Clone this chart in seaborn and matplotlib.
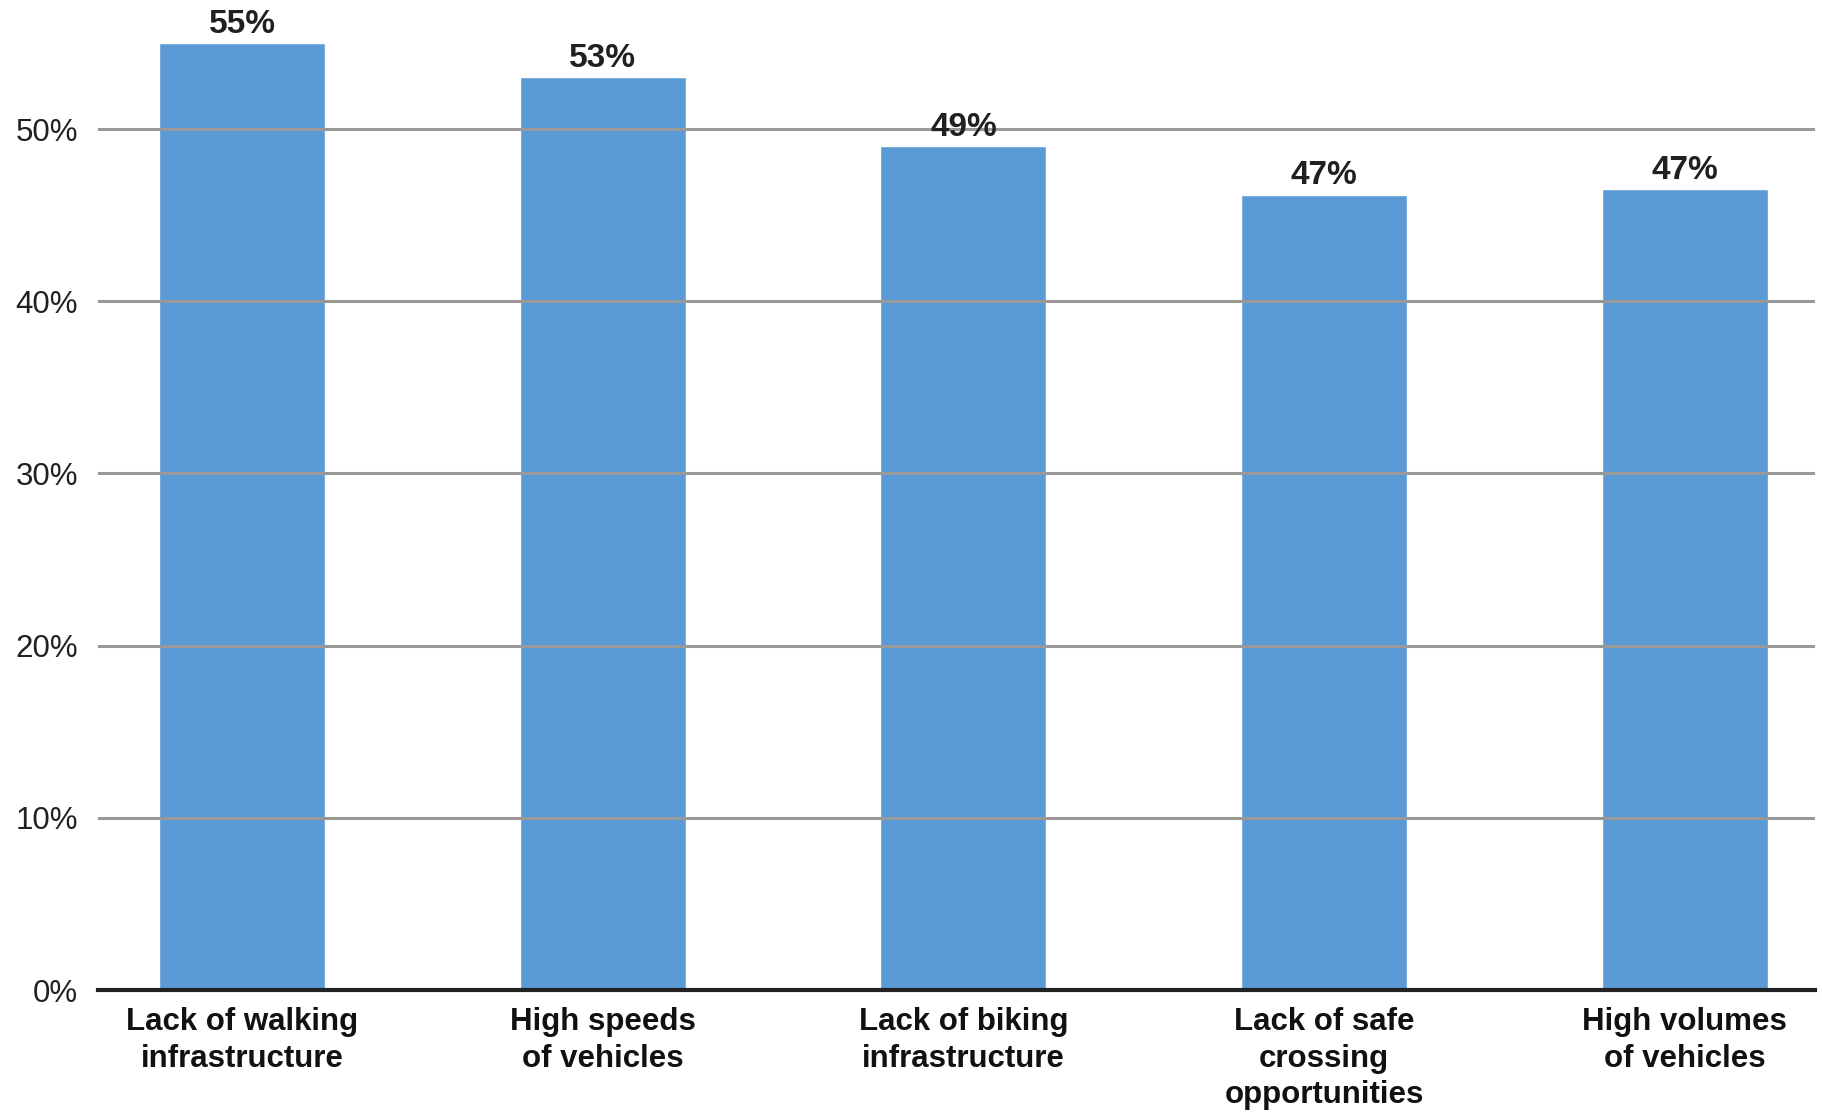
import pandas as pd
import matplotlib.pyplot as plt
import seaborn as sns

categories = [
    "Lack of walking\ninfrastructure",
    "High speeds\nof vehicles",
    "Lack of biking\ninfrastructure",
    "Lack of safe\ncrossing\nopportunities",
    "High volumes\nof vehicles",
]
values = [55.0, 53.0, 49.0, 46.2, 46.5]
value_labels = ["55%", "53%", "49%", "47%", "47%"]
y_ticks = [0, 10, 20, 30, 40, 50]
y_tick_labels = ["0%", "10%", "20%", "30%", "40%", "50%"]

df = pd.DataFrame({"issue": categories, "share": values})

sns.set_style("white")
plt.rcParams["font.family"] = ["Liberation Sans", "DejaVu Sans"]

fig = plt.figure(figsize=(18.22, 11.14), dpi=100)
ax = fig.add_axes([0.0536, 0.1113, 0.9424, 0.8887])

sns.barplot(data=df, x="issue", y="share", color="#5B9BD5", saturation=1,
            width=0.46, ax=ax, zorder=2)

# value labels above bars
for i, (v, lab) in enumerate(zip(values, value_labels)):
    ax.text(i, v + 0.2, lab, ha="center", va="bottom", fontsize=24,
            fontweight="bold", color="#231F20", clip_on=False)

ax.set_ylim(0, 57.5)
ax.set_xlim(-0.4, 4.36)
ax.set_yticks(y_ticks)
ax.set_yticklabels(y_tick_labels, fontsize=22.5, color="#231F20")
ax.tick_params(axis="y", length=0, pad=14)
ax.tick_params(axis="x", length=0, pad=12)
for t in ax.get_xticklabels():
    t.set_fontsize(22.5)
    t.set_fontweight("bold")
    t.set_color("#111111")
    t.set_linespacing(1.3)
    t.set_verticalalignment("top")

# gridlines sit on top of the bars in the original
ax.set_axisbelow(False)
ax.yaxis.grid(True, color="#999999", linewidth=2.2, zorder=3)
ax.xaxis.grid(False)
for s in ["top", "right", "left"]:
    ax.spines[s].set_visible(False)
ax.spines["bottom"].set_color("#222222")
ax.spines["bottom"].set_linewidth(3)
ax.spines["bottom"].set_zorder(4)
ax.set_xlabel("")
ax.set_ylabel("")

fig.savefig("out.png", dpi=100)
